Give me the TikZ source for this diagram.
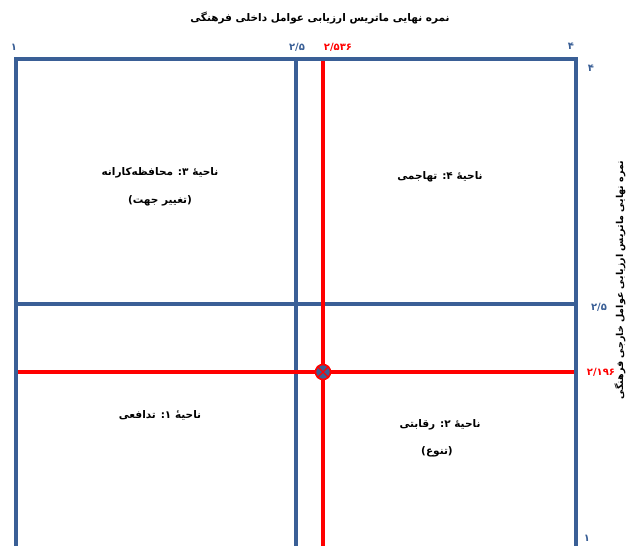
\documentclass[tikz,border=0pt]{standalone}
\usepackage{fontspec}
\newfontfamily\arabicfont[Script=Arabic]{DejaVu Sans}
\TeXXeTstate=1
\definecolor{boxblue}{RGB}{58,95,150}
\definecolor{markred}{RGB}{255,0,0}
\tikzset{
  blueline/.style={draw=boxblue,line width=3.5pt},
  redline/.style={draw=markred,line width=3.5pt},
  numlab/.style={font=\arabicfont\bfseries\fontsize{10}{11}\selectfont,inner sep=0pt},
  bluenum/.style={numlab,text=boxblue},
  rednum/.style={numlab,text=markred},
  blacknum/.style={numlab,text=boxblue},
  zonetext/.style={font=\arabicfont\bfseries\fontsize{10.5}{12}\selectfont,inner sep=0pt,align=center},
}
\begin{document}
\begin{tikzpicture}[x=1pt,y=-1pt]
\useasboundingbox (0,0) rectangle (629,546);
% coordinates
\coordinate (bl) at (16,548);
\coordinate (tl) at (16,59);
\coordinate (tr) at (576,59);
\coordinate (br) at (576,548);
\coordinate (vbt) at (296,59);
\coordinate (vbb) at (296,548);
\coordinate (hbl) at (16,304);
\coordinate (hbr) at (576,304);
\coordinate (vrt) at (323,59);
\coordinate (vrb) at (323,548);
\coordinate (hrl) at (16,372);
\coordinate (hrr) at (576,372);
% inner blue lines
\draw[blueline] (vbt) -- (vbb);
\draw[blueline] (hbl) -- (hbr);
% red lines
\draw[redline] (vrt) -- (vrb);
\draw[redline] (hrl) -- (hrr);
% outer frame
\draw[blueline,line join=miter] (bl) -- (tl) -- (tr) -- (br);
% intersection marker
\node[circle,draw=markred,fill=boxblue,line width=1.6pt,minimum size=15pt,inner sep=0pt] (mk) at (323,372) {};
\draw[markred,line width=1.4pt] (mk.45) -- (mk.225) (mk.135) -- (mk.-45);
% title
\node[font=\arabicfont\bfseries\fontsize{10.5}{12}\selectfont,inner sep=0pt] (title) at (320,18) {\beginR نمره نهایی ماتریس ارزیابی عوامل داخلی فرهنگی\endR};
% axis labels top
\node[blacknum] (t1) at (14,47) {۱};
\node[bluenum] (t25) at (297,47) {۲/۵};
\node[rednum] (t2536) at (338,47) {۲/۵۳۶};
\node[bluenum] (t4) at (571,46) {۴};
% axis labels right
\node[bluenum] (r4) at (591,68) {۴};
\node[bluenum] (r25) at (599,307) {۲/۵};
\node[rednum] (r2196) at (601,372) {۲/۱۹۶};
\node[bluenum] (r1) at (587,538) {۱};
% right vertical title
\node[font=\arabicfont\bfseries\fontsize{9.5}{11}\selectfont,inner sep=0pt,rotate=90] (rtitle) at (620,280) {\beginR نمره نهایی ماتریس ارزیابی عوامل خارجی فرهنگی\endR};
% zone texts
\node[zonetext] (z3a) at (160,173) {\beginR ناحیهٔ ۳: محافظه‌کارانه\endR};
\node[zonetext] (z3b) at (160,201) {\beginR (تغییر جهت)\endR};
\node[zonetext] (z4) at (440,177) {\beginR ناحیهٔ ۴: تهاجمی\endR};
\node[zonetext] (z1) at (160,415) {\beginR ناحیهٔ ۱: تدافعی\endR};
\node[zonetext] (z2a) at (440,425) {\beginR ناحیهٔ ۲: رقابتی\endR};
\node[zonetext] (z2b) at (437,452) {\beginR (تنوع)\endR};
\end{tikzpicture}
\end{document}
